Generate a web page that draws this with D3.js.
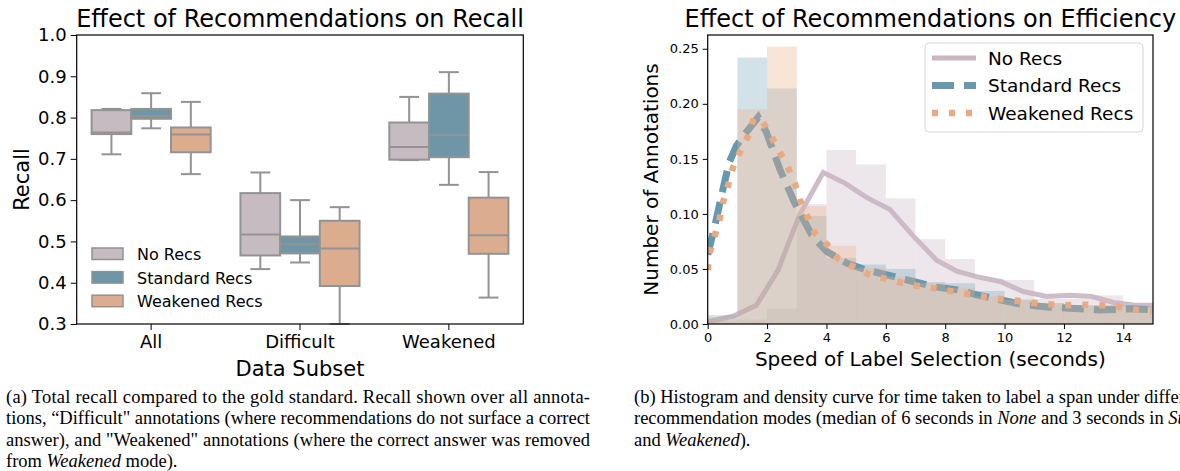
<!DOCTYPE html>
<html>
<head>
<meta charset="utf-8">
<script src="https://cdn.jsdelivr.net/npm/d3@7"></script>
<style>
  body { margin: 0; background: #fff; }
  text { font-family: "DejaVu Sans", sans-serif; fill: #000; }
  .caption text { font-family: "Liberation Serif", serif; }
</style>
</head>
<body>
<div id="chart"></div>
<script>
// ---- left chart: recall box plots ----
const subsets = ["All", "Difficult", "Weakened"];
const modes = ["No Recs", "Standard Recs", "Weakened Recs"];
const recallTicks = [0.3, 0.4, 0.5, 0.6, 0.7, 0.8, 0.9, 1.0];

// [whisker low, q1, median, q3, whisker high] per subset
const noRecsRecall = [
  [0.711, 0.760, 0.764, 0.818, 0.821],
  [0.433, 0.466, 0.517, 0.617, 0.667],
  [0.697, 0.698, 0.729, 0.788, 0.850],
];
const standardRecall = [
  [0.774, 0.797, 0.804, 0.821, 0.859],
  [0.449, 0.471, 0.493, 0.512, 0.600],
  [0.637, 0.704, 0.758, 0.858, 0.910],
];
const weakenedRecall = [
  [0.663, 0.716, 0.759, 0.776, 0.838],
  [0.300, 0.392, 0.483, 0.550, 0.583],
  [0.364, 0.470, 0.515, 0.606, 0.668],
];

// ---- right chart: histogram + density ----
const binStarts = [0, 1, 2, 3, 4, 5, 6, 7, 8, 9, 10, 11, 12, 13, 14];
const noRecsHist = [0.003, 0.004, 0.014, 0.109, 0.158, 0.145, 0.114, 0.077, 0.059, 0.041, 0.040, 0.023, 0.023, 0.026, 0.017];
const standardHist = [0.008, 0.242, 0.214, 0.098, 0.060, 0.054, 0.050, 0.038, 0.037, 0.030, 0.022, 0.019, 0.017, 0.017, 0.016];
const weakenedHist = [0.006, 0.195, 0.252, 0.107, 0.071, 0.051, 0.043, 0.037, 0.033, 0.025, 0.022, 0.019, 0.017, 0.017, 0.016];

const noRecsKde = [
  [0, 0.002], [0.85, 0.007], [1.64, 0.017], [2.37, 0.049], [3.1, 0.0995],
  [3.89, 0.1375], [4.62, 0.128], [5.35, 0.115], [6.14, 0.104], [6.92, 0.080],
  [7.71, 0.058], [8.39, 0.048], [9.06, 0.043], [9.85, 0.0386], [10.63, 0.0295],
  [11.42, 0.025], [12.2, 0.026], [12.94, 0.025], [13.67, 0.0195], [14.34, 0.0173], [15, 0.017],
];
const standardKde = [
  [0, 0.063], [0.24, 0.089], [0.46, 0.116], [0.72, 0.1466], [0.97, 0.162],
  [1.25, 0.1724], [1.7, 0.1877], [1.98, 0.174], [2.43, 0.1405], [2.93, 0.110],
  [3.5, 0.081], [4.0, 0.066], [4.68, 0.0553], [5.35, 0.049], [6.14, 0.044],
  [6.92, 0.0386], [7.7, 0.0335], [8.4, 0.031], [9.06, 0.0265], [9.85, 0.022],
  [10.63, 0.0175], [11.42, 0.0155], [12.2, 0.0143], [13.2, 0.0128], [14.3, 0.0137], [15, 0.013],
];
const weakenedKde = [
  [0, 0.049], [0.07, 0.065], [0.4, 0.095], [0.53, 0.112], [0.7, 0.127],
  [0.85, 0.142], [1.1, 0.157], [1.37, 0.171], [1.55, 0.1868], [1.83, 0.1846],
  [2.13, 0.171], [2.7, 0.1426], [2.93, 0.128], [3.1, 0.113], [3.35, 0.098],
  [3.6, 0.083], [4.03, 0.072], [4.4, 0.059], [4.9, 0.052], [5.45, 0.0447],
  [6.0, 0.041], [6.6, 0.037], [7.2, 0.034], [7.86, 0.0316], [8.43, 0.0286],
  [9.04, 0.0259], [9.6, 0.0234], [10.2, 0.0219], [10.8, 0.0198], [11.39, 0.018],
  [11.98, 0.017], [12.58, 0.0176], [13.19, 0.0173], [13.78, 0.0158], [14.35, 0.0134], [14.95, 0.0112],
];
const speedTicks = [0, 2, 4, 6, 8, 10, 12, 14];
const countTicks = [0, 0.05, 0.1, 0.15, 0.2, 0.25];

const boxColors = ["#c6bbc1", "#6e96a6", "#dcac8f"];
const lineColors = ["#c8b6c2", "#6699b0", "#e9a983"];
const histColors = ["#c8b6c2", "#7aa6bb", "#eeb08a"];

const svg = d3
  .select("#chart")
  .append("svg")
  .attr("width", 1180)
  .attr("height", 471);

svg.append("rect").attr("width", 1180).attr("height", 471).attr("fill", "#fff");

function recallBoxChart() {
  const left = 76.7, right = 523.3, top = 35, bottom = 324;
  const g = svg.append("g");

  const x = d3.scaleBand().domain(subsets).range([left, right]).padding(0);
  const y = d3.scaleLinear().domain([0.3, 1.0]).range([bottom, top]);
  const boxW = (x.bandwidth() * 0.8) / 3;

  g.append("g")
    .attr("transform", `translate(${left}, 0)`)
    .call(d3.axisLeft(y).tickValues(recallTicks).tickFormat(d3.format(".1f")).tickSize(6).tickPadding(4))
    .call((a) => a.select(".domain").remove())
    .call((a) => a.selectAll("text").style("font-size", "18px"));

  g.append("g")
    .attr("transform", `translate(0, ${bottom})`)
    .call(d3.axisBottom(x).tickSize(6).tickPadding(5))
    .call((a) => a.select(".domain").remove())
    .call((a) => a.selectAll("text").style("font-size", "18px"));

  const series = [noRecsRecall, standardRecall, weakenedRecall];
  series.forEach((stats, m) => {
    stats.forEach((s, i) => {
      const cx = x(subsets[i]) + x.bandwidth() / 2 + (m - 1) * boxW;
      const [lo, q1, med, q3, hi] = s;
      const box = g.append("g").attr("stroke", "#939393").attr("stroke-width", 2);
      box.append("line").attr("x1", cx).attr("x2", cx).attr("y1", y(hi)).attr("y2", y(q3));
      box.append("line").attr("x1", cx).attr("x2", cx).attr("y1", y(q1)).attr("y2", y(lo));
      box.append("line").attr("x1", cx - boxW / 4).attr("x2", cx + boxW / 4).attr("y1", y(hi)).attr("y2", y(hi));
      box.append("line").attr("x1", cx - boxW / 4).attr("x2", cx + boxW / 4).attr("y1", y(lo)).attr("y2", y(lo));
      box.append("rect")
        .attr("x", cx - boxW / 2)
        .attr("y", y(q3))
        .attr("width", boxW)
        .attr("height", y(q1) - y(q3))
        .attr("fill", boxColors[m]);
      box.append("line").attr("x1", cx - boxW / 2).attr("x2", cx + boxW / 2).attr("y1", y(med)).attr("y2", y(med));
    });
  });

  g.append("rect")
    .attr("x", left).attr("y", top)
    .attr("width", right - left).attr("height", bottom - top)
    .attr("fill", "none").attr("stroke", "#000").attr("stroke-width", 1.2);

  // legend
  const lg = g.append("g").attr("transform", "translate(92, 254)");
  modes.forEach((m, i) => {
    lg.append("rect")
      .attr("x", 0).attr("y", i * 23.6 - 6)
      .attr("width", 31).attr("height", 11.5)
      .attr("fill", boxColors[i]).attr("stroke", "#939393").attr("stroke-width", 1.5);
    lg.append("text").attr("x", 45).attr("y", i * 23.6 + 6).style("font-size", "16px").text(m);
  });

  g.append("text")
    .attr("x", (left + right) / 2).attr("y", 27)
    .attr("text-anchor", "middle").style("font-size", "24px")
    .text("Effect of Recommendations on Recall");

  g.append("text")
    .attr("x", (left + right) / 2).attr("y", 376)
    .attr("text-anchor", "middle").style("font-size", "21px")
    .text("Data Subset");

  g.append("text")
    .attr("transform", "rotate(-90)")
    .attr("x", -(top + bottom) / 2).attr("y", 29)
    .attr("text-anchor", "middle").style("font-size", "21px")
    .text("Recall");
}

function efficiencyChart() {
  const left = 707.7, right = 1153, top = 35, bottom = 324;
  const g = svg.append("g");

  const x = d3.scaleLinear().domain([0, 15]).range([left, right]);
  const y = d3.scaleLinear().domain([0, 0.2625]).range([bottom, top]);

  g.append("clipPath").attr("id", "plot-clip")
    .append("rect").attr("x", left).attr("y", top).attr("width", right - left).attr("height", bottom - top);

  const plot = g.append("g").attr("clip-path", "url(#plot-clip)");
  const hists = [noRecsHist, standardHist, weakenedHist];
  const kdes = [noRecsKde, standardKde, weakenedKde];
  const dashes = [null, "22,10", "6,11"];
  const widths = [5, 7, 6.5];
  const line = d3.line().x((d) => x(d[0])).y((d) => y(d[1]));

  hists.forEach((h, m) => {
    plot.selectAll(`.bar${m}`)
      .data(binStarts)
      .enter()
      .append("rect")
      .attr("class", `bar${m}`)
      .attr("x", (d) => x(d))
      .attr("y", (d, i) => y(h[i]))
      .attr("width", (d) => x(d + 1) - x(d))
      .attr("height", (d, i) => y(0) - y(h[i]))
      .attr("fill", histColors[m])
      .attr("fill-opacity", 0.33);

    plot.append("path")
      .datum(kdes[m])
      .attr("d", line)
      .attr("fill", "none")
      .attr("stroke", lineColors[m])
      .attr("stroke-width", widths[m])
      .attr("stroke-opacity", m === 0 ? 0.9 : 1)
      .attr("stroke-dasharray", dashes[m]);
  });

  g.append("g")
    .attr("transform", `translate(${left}, 0)`)
    .call(d3.axisLeft(y).tickValues(countTicks).tickFormat(d3.format(".2f")).tickSize(5).tickPadding(4))
    .call((a) => a.select(".domain").remove())
    .call((a) => a.selectAll("text").style("font-size", "13px"));

  g.append("g")
    .attr("transform", `translate(0, ${bottom})`)
    .call(d3.axisBottom(x).tickValues(speedTicks).tickFormat(d3.format("d")).tickSize(5).tickPadding(4))
    .call((a) => a.select(".domain").remove())
    .call((a) => a.selectAll("text").style("font-size", "13px"));

  g.append("rect")
    .attr("x", left).attr("y", top)
    .attr("width", right - left).attr("height", bottom - top)
    .attr("fill", "none").attr("stroke", "#000").attr("stroke-width", 1.2);

  // legend
  const lg = g.append("g");
  lg.append("rect")
    .attr("x", 925).attr("y", 43).attr("width", 218).attr("height", 89).attr("rx", 4)
    .attr("fill", "#fff").attr("fill-opacity", 0.8).attr("stroke", "#d6d6d6");
  modes.forEach((m, i) => {
    const ly = 58 + i * 27.5;
    lg.append("line")
      .attr("x1", 932).attr("x2", 976).attr("y1", ly).attr("y2", ly)
      .attr("stroke", lineColors[i]).attr("stroke-width", widths[i])
      .attr("stroke-dasharray", dashes[i]);
    lg.append("text").attr("x", 988).attr("y", ly + 6.5).style("font-size", "18.5px").text(m);
  });

  g.append("text")
    .attr("x", (left + right) / 2).attr("y", 27)
    .attr("text-anchor", "middle").style("font-size", "24px")
    .text("Effect of Recommendations on Efficiency");

  g.append("text")
    .attr("x", (left + right) / 2).attr("y", 366)
    .attr("text-anchor", "middle").style("font-size", "20px")
    .text("Speed of Label Selection (seconds)");

  g.append("text")
    .attr("transform", "rotate(-90)")
    .attr("x", -(top + bottom) / 2).attr("y", 658)
    .attr("text-anchor", "middle").style("font-size", "20px")
    .text("Number of Annotations");
}

function captions() {
  const c = svg.append("g").attr("class", "caption").style("font-size", "18.5px");
  const linesA = [
    [["(a)  Total recall compared to the gold standard. Recall shown over all annota-", false]],
    [["tions, \u201cDifficult\" annotations (where recommendations do not surface a correct", false]],
    [["answer), and \"Weakened\" annotations (where the correct answer was removed", false]],
    [["from ", false], ["Weakened", true], [" mode).", false]],
  ];
  const linesB = [
    [["(b)  Histogram and density curve for time taken to label a span under different", false]],
    [["recommendation modes (median of 6 seconds in ", false], ["None", true], [" and 3 seconds in ", false], ["Standard", true]],
    [["and ", false], ["Weakened", true], [").", false]],
  ];
  const draw = (lines, x0, justify) => {
    lines.forEach((parts, i) => {
      const t = c.append("text").attr("x", x0).attr("y", 403 + i * 21.3);
      if (justify[i]) t.attr("textLength", justify[i]).attr("lengthAdjust", "spacing");
      parts.forEach(([s, it]) => {
        t.append("tspan").style("font-style", it ? "italic" : "normal").text(s);
      });
    });
  };
  draw(linesA, 6, [584, 584, 584, null]);
  draw(linesB, 634, [null, null, null]);
}

recallBoxChart();
efficiencyChart();
captions();
</script>
</body>
</html>
